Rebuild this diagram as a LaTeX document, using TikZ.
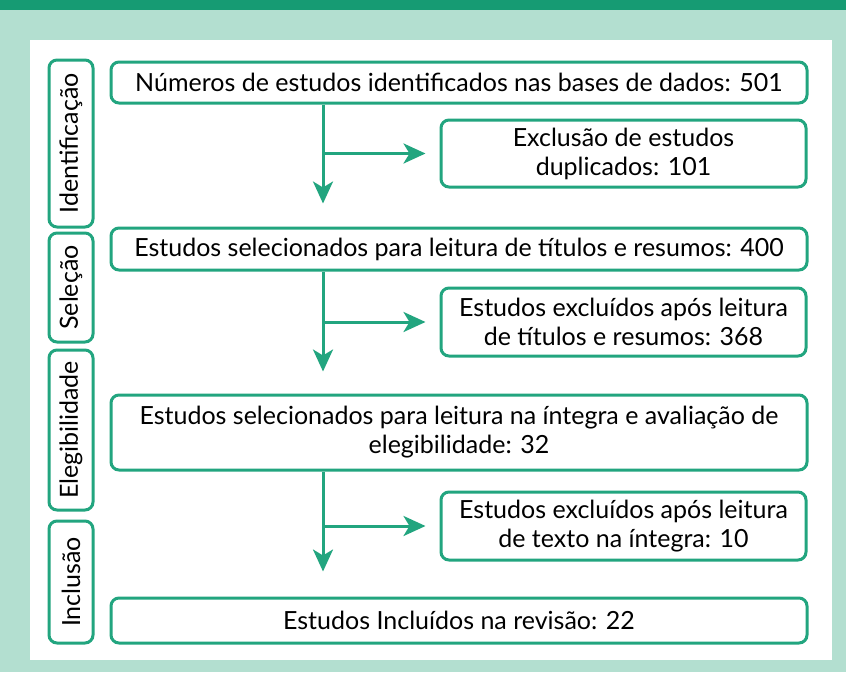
\documentclass[tikz,border=0pt]{standalone}
\usepackage{fontspec}
\setmainfont{Lato}
\usetikzlibrary{arrows.meta,positioning}
\definecolor{barra}{HTML}{169B73}
\definecolor{fundo}{HTML}{B3DFD0}
\definecolor{linha}{HTML}{22A57F}

\begin{document}
\begin{tikzpicture}[x=1pt,y=-1pt,>={Stealth[length=22pt,width=20pt,inset=6pt]},
  caixa/.style={draw=linha,line width=3pt,rounded corners=8pt,align=center,
    font=\fontsize{25}{29}\selectfont,inner sep=0pt},
  fase/.style={caixa,rotate=90,minimum height=44pt},
  seta/.style={color=linha,line width=3pt,->}]

  % fundo
  \fill[fundo] (0,0) rectangle (846,672);
  \fill[barra] (0,0) rectangle (846,10);
  \fill[white] (30,40) rectangle (832,660);

  % fases
  \node[fase,minimum width=167pt] (f0) at (71,143.5) {Identificação};
  \node[fase,minimum width=109pt] (f1) at (71,287.5) {Seleção};
  \node[fase,minimum width=160pt] (f2) at (71,430)   {Elegibilidade};
  \node[fase,minimum width=122pt] (f3) at (71,582)   {Inclusão};

  % caixas principais
  \node[caixa,minimum width=696pt,minimum height=41pt] (n0) at (459,82.5)
    {Números de estudos identificados nas bases de dados: 501};
  \node[caixa,minimum width=696pt,minimum height=42pt] (n1) at (459,249)
    {Estudos selecionados para leitura de títulos e resumos: 400};
  \node[caixa,minimum width=696pt,minimum height=75pt] (n2) at (459,432.5)
    {Estudos selecionados para leitura na íntegra e avaliação de\\ elegibilidade: 32};
  \node[caixa,minimum width=696pt,minimum height=45pt] (n3) at (459,620.5)
    {Estudos Incluídos na revisão: 22};

  % exclusoes
  \node[caixa,minimum width=365pt,minimum height=67pt] (x0) at (623.5,153.5)
    {Exclusão de estudos\\ duplicados: 101};
  \node[caixa,minimum width=365pt,minimum height=68pt] (x1) at (623.5,322)
    {Estudos excluídos após leitura\\ de títulos e resumos: 368};
  \node[caixa,minimum width=365pt,minimum height=68pt] (x2) at (623.5,526)
    {Estudos excluídos após leitura\\ de texto na íntegra: 10};

  \coordinate (tr) at (323,0);

  \path[seta] (n0.south -| tr) edge[shorten >=23pt] (n1.north -| tr)
              (x0.west -| tr)  edge[shorten >=14pt] (x0.west)
              (n1.south -| tr) edge[shorten >=22pt] (n2.north -| tr)
              (x1.west -| tr)  edge[shorten >=14pt] (x1.west)
              (n2.south -| tr) edge[shorten >=25pt] (n3.north -| tr)
              (x2.west -| tr)  edge[shorten >=14pt] (x2.west);

\end{tikzpicture}
\end{document}
